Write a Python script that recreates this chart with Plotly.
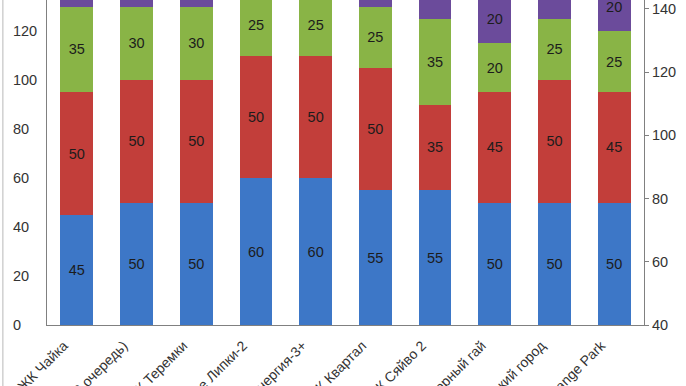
import plotly.graph_objects as go

categories = ["ЖК Чайка", "ЖК Комфорт Таун (2 очередь)", "ЖК Теремки", "ЖК Новопечерские Липки-2",
              "ЖК Синергия-3+", "ЖК Квартал", "ЖК Сяйво 2", "ЖК Озерный гай",
              "ЖК Французский город", "ЖК Orange Park"]
blue_vals = [45, 50, 50, 60, 60, 55, 55, 50, 50, 50]
red_vals = [50, 50, 50, 50, 50, 50, 35, 45, 50, 45]
green_vals = [35, 30, 30, 25, 25, 25, 35, 20, 25, 25]
purple_vals = [10, 10, 10, 10, 10, 10, 20, 20, 20, 20]

left_ticks = [0, 20, 40, 60, 80, 100, 120]
right_ticks = [40, 60, 80, 100, 120, 140]

series = [
    ("Синий", blue_vals, "#3d77c7"),
    ("Красный", red_vals, "#c23e3a"),
    ("Зелёный", green_vals, "#89b446"),
    ("Фиолетовый", purple_vals, "#6b4b9b"),
]

# left-aligned looking labels: pad with figure spaces (digit width)
max_len = max(len(str(t)) for t in left_ticks)
left_text = [str(t) + "\u2007" * (max_len - len(str(t))) for t in left_ticks]

fig = go.Figure()
for name, vals, col in series:
    fig.add_trace(go.Bar(
        x=categories, y=vals, name=name,
        marker=dict(color=col, line=dict(width=0)),
        text=[str(v) for v in vals],
        textposition="inside", insidetextanchor="middle",
        textangle=0, constraintext="none",
        textfont=dict(family="Liberation Sans, Arial, sans-serif", size=14.5, color="#1c1c1c"),
        cliponaxis=True,
    ))

# empty trace bound to the secondary axis so that it is drawn
fig.add_trace(go.Scatter(x=[], y=[], yaxis="y2", showlegend=False, hoverinfo="skip"))

fig.update_layout(
    width=686, height=386,
    margin=dict(l=47, r=42, t=0, b=61),
    barmode="stack", bargap=0.45,
    showlegend=False,
    plot_bgcolor="white", paper_bgcolor="white",
    font=dict(family="Liberation Sans, Arial, sans-serif", size=13, color="#333333"),
    xaxis=dict(
        type="category", tickangle=-45, automargin=False,
        showline=True, linecolor="#808080", linewidth=1,
        ticks="", showgrid=False,
        tickfont=dict(size=14, color="#333333"),
        ticklabelshift=-13, ticklabelstandoff=6,
    ),
    yaxis=dict(
        range=[0, 132.7], tickvals=left_ticks, ticktext=left_text, automargin=False,
        showline=True, linecolor="#808080", linewidth=1,
        ticks="", showgrid=False, zeroline=False,
        tickfont=dict(size=14.5, color="#333333"), ticklabelstandoff=6,
    ),
    yaxis2=dict(
        range=[40, 142.8], tickvals=right_ticks, overlaying="y", side="right",
        automargin=False, showline=True, linecolor="#808080", linewidth=1,
        ticks="outside", ticklen=4, tickcolor="#808080",
        showgrid=False, zeroline=False,
        tickfont=dict(size=14.5, color="#333333"),
    ),
    shapes=[dict(type="line", xref="paper", yref="paper",
                 x0=-0.074, x1=-0.074, y0=-0.2, y1=1.0,
                 line=dict(color="#d0d0d0", width=1.5))],
)

fig.write_html("out.html", config={"displayModeBar": False},
               post_script="document.body.style.margin='0';")
